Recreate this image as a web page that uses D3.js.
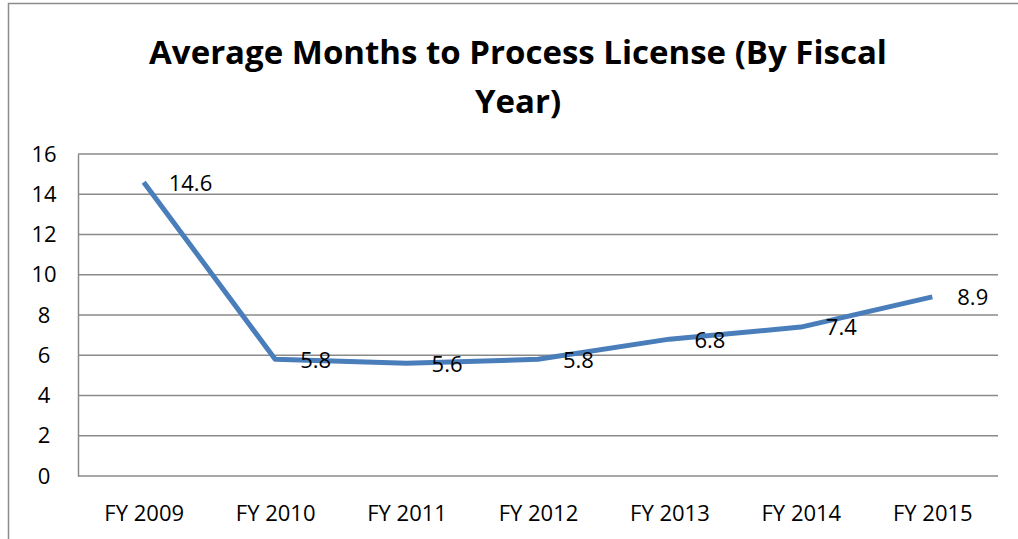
<!DOCTYPE html>
<html>
<head>
<meta charset="utf-8">
<script src="https://cdn.jsdelivr.net/npm/d3@7"></script>
<style>
  body { margin: 0; background: #fff; }
  svg { display: block; }
</style>
</head>
<body>
<div id="chart"></div>
<script>
// chart data
const years = ["FY 2009", "FY 2010", "FY 2011", "FY 2012", "FY 2013", "FY 2014", "FY 2015"];
const months = [14.6, 5.8, 5.6, 5.8, 6.8, 7.4, 8.9];
const yTicks = [0, 2, 4, 6, 8, 10, 12, 14, 16];
const titleLines = ["Average Months to Process License (By Fiscal", "Year)"];

const FONT = "'Open Sans', 'DejaVu Sans', sans-serif";
const W = 1018, H = 539;
const margin = {top: 154, left: 78},
    width = 998 - margin.left,
    height = 476 - margin.top;

const svg = d3.select("#chart")
    .append("svg")
    .attr("width", W)
    .attr("height", H)
    .style("font-family", FONT);

// outer frame (top and left edges visible)
svg.append("path")
    .attr("d", `M8.5,${H} V3.5 H${W}`)
    .attr("fill", "none")
    .attr("stroke", "#8c8c8c")
    .attr("stroke-width", 1.5);

// title
svg.append("g")
    .selectAll("text")
    .data(titleLines)
    .join("text")
    .attr("x", 518)
    .attr("y", (d, i) => 64 + i * 49)
    .attr("text-anchor", "middle")
    .attr("font-size", 33)
    .attr("font-weight", "bold")
    .attr("fill", "#000")
    .text(d => d);

const g = svg.append("g")
    .attr("transform", `translate(${margin.left}, ${margin.top})`);

const x = d3.scalePoint()
    .domain(years)
    .range([0, width])
    .padding(0.5);

const y = d3.scaleLinear()
    .domain([0, 16])
    .range([height, 0]);

// gridlines
g.append("g")
    .selectAll("line")
    .data(yTicks)
    .join("line")
    .attr("x1", 0)
    .attr("x2", width)
    .attr("y1", d => y(d))
    .attr("y2", d => y(d))
    .attr("stroke", "#8a8a8a")
    .attr("stroke-width", 1.5);

// y axis
const yAxis = g.append("g")
    .call(d3.axisLeft(y).tickValues(yTicks).tickSize(0).tickPadding(34));
yAxis.select(".domain").attr("stroke", "#8a8a8a").attr("stroke-width", 1.5);
yAxis.selectAll("text")
    .attr("font-size", 22)
    .attr("fill", "#000")
    .attr("font-family", FONT)
    .attr("text-anchor", "middle");

// x axis
const xAxis = g.append("g")
    .attr("transform", `translate(0, ${height})`)
    .call(d3.axisBottom(x).tickSize(0).tickPadding(29));
xAxis.select(".domain").remove();
xAxis.selectAll("text")
    .attr("font-size", 22)
    .attr("fill", "#000")
    .attr("font-family", FONT);

// line
const line = d3.line()
    .x((d, i) => x(years[i]))
    .y(d => y(d));

g.append("path")
    .datum(months)
    .attr("d", line)
    .attr("fill", "none")
    .attr("stroke", "#4a7ebb")
    .attr("stroke-width", 5)
    .attr("stroke-linejoin", "round");

// data labels
g.append("g")
    .selectAll("text")
    .data(months)
    .join("text")
    .attr("x", (d, i) => x(years[i]) + 25)
    .attr("y", d => y(d))
    .attr("dy", "0.38em")
    .attr("font-size", 22)
    .attr("fill", "#000")
    .text(d => d.toFixed(1));
</script>
</body>
</html>
